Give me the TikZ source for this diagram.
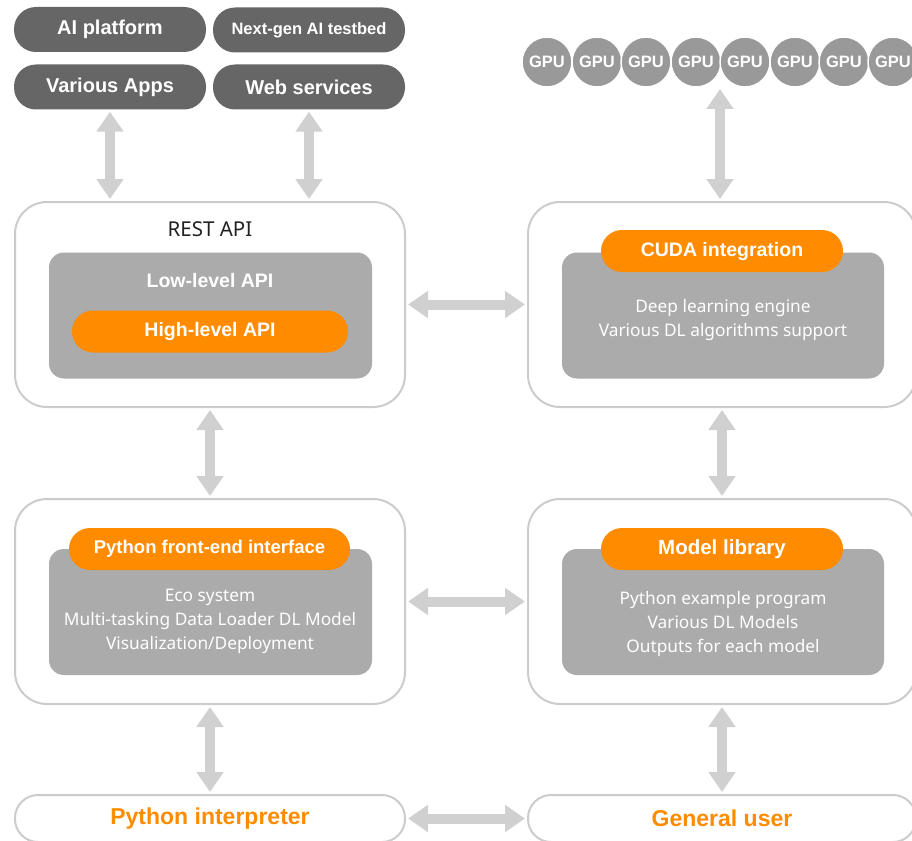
\documentclass[tikz,border=0pt]{standalone}
\usepackage{fontspec}
\setmainfont{Noto Sans}
\newfontfamily\hb{Liberation Sans}
\usetikzlibrary{arrows.meta}
\definecolor{pilldark}{HTML}{666666}
\definecolor{gpugray}{HTML}{999999}
\definecolor{innergray}{HTML}{ABABAB}
\definecolor{bordergray}{HTML}{CCCCCC}
\definecolor{arrowgray}{HTML}{D0D0D0}
\definecolor{accent}{HTML}{FF8C00}
\definecolor{textdark}{HTML}{222222}
\newcommand{\bsz}[1]{\hb\bfseries\fontsize{#1}{#1}\selectfont}
\begin{document}
\begin{tikzpicture}[x=1pt,y=-1pt,
  darkpill/.style={fill=pilldark, text=white, rounded corners=22pt, minimum width=192pt, minimum height=45pt, inner sep=0pt, font=\bsz{20}},
  outerbox/.style={draw=bordergray, line width=2pt, fill=white, rounded corners=32pt, minimum width=390pt, minimum height=205pt, inner sep=0pt},
  innerbox/.style={fill=innergray, rounded corners=15pt, minimum width=323pt, minimum height=126pt, inner sep=0pt},
  orangepill/.style={fill=accent, text=white, rounded corners=21pt, minimum height=42pt, inner sep=0pt, font=\bsz{19}},
  gpu/.style={circle, fill=gpugray, draw=white, line width=1.5pt, minimum size=50pt, inner sep=0pt, text=white, font=\bsz{16.5}},
  bodytext/.style={text=white, align=center, font=\fontsize{17.3}{24}\selectfont},
  bottombox/.style={draw=bordergray, line width=2pt, fill=white, rounded corners=23pt, minimum width=390pt, minimum height=47pt, inner sep=0pt, text=accent, font=\bsz{23}},
  bigarrow/.style={draw=arrowgray, line width=10pt, {Triangle[width=26pt,length=20pt]}-{Triangle[width=26pt,length=20pt]}, shorten >=2pt, shorten <=2pt}
]
\useasboundingbox (0,0) rectangle (912,840);
\clip (0,0) rectangle (912,840);
\fill[white] (0,0) rectangle (912,840);

% top pills
\node[darkpill] (aiplat) at (110,29.5) {AI platform};
\node[darkpill, font=\bsz{16.5}] (nextgen) at (309,30) {Next-gen AI testbed};
\node[darkpill] (apps) at (110,87) {Various Apps};
\node[darkpill] (web) at (309,87) {Web services};

% GPUs
\foreach \i/\x in {1/547,2/597,3/646,4/696,5/745,6/795,7/844,8/893}
  \node[gpu] (gpu\i) at (\x,62) {GPU};
\coordinate (gputop) at (720,87);

% REST API box
\node[outerbox] (rest) at (210,304.5) {};
\node[text=textdark, font=\fontsize{20.5}{22}\selectfont] (restlabel) at (210,229) {REST API};
\node[innerbox] (restin) at (210.5,315.5) {};
\node[text=white, font=\bsz{19.5}] (low) at (210,281) {Low-level API};
\node[orangepill, minimum width=276pt, font=\bsz{19.5}] (high) at (210,331.5) {High-level API};

% CUDA box
\node[outerbox, minimum width=388pt] (cudabox) at (722,304.5) {};
\node[innerbox, minimum width=322pt] (cudain) at (723,315.5) {};
\node[orangepill, minimum width=242pt, font=\bsz{19.5}] (cuda) at (722,251) {CUDA integration};
\node[bodytext] (cudatext) at (723,320) {Deep learning engine\\Various DL algorithms support};

% Python front-end box
\node[outerbox] (front) at (210,601.5) {};
\node[innerbox] (frontin) at (210.5,612) {};
\node[orangepill, minimum width=281pt, font=\bsz{18.5}] (frontpill) at (209.5,549) {Python front-end interface};
\node[bodytext] (fronttext) at (210,621) {Eco system\\Multi-tasking Data Loader DL Model\\Visualization/Deployment};

% Model library box
\node[outerbox, minimum width=388pt] (model) at (722,601.5) {};
\node[innerbox, minimum width=322pt] (modelin) at (723,612) {};
\node[orangepill, minimum width=242pt, font=\bsz{20.5}] (modelpill) at (722,549) {Model library};
\node[bodytext] (modeltext) at (723,624) {Python example program\\Various DL Models\\Outputs for each model};

% bottom boxes
\node[bottombox] (interp) at (210,818.5) {Python interpreter};
\node[bottombox, minimum width=388pt] (user) at (722,818.5) {General user};

% arrows
\draw[bigarrow] (apps.south) -- (apps.south |- rest.north);
\draw[bigarrow] (web.south) -- (web.south |- rest.north);
\draw[bigarrow] (gputop) -- (gputop |- cudabox.north);
\draw[bigarrow] (rest.east) -- (cudabox.west);
\draw[bigarrow] (rest.south) -- (front.north);
\draw[bigarrow] (cudabox.south) -- (model.north);
\draw[bigarrow] (front.east) -- (model.west);
\draw[bigarrow] (front.south) -- (interp.north);
\draw[bigarrow] (model.south) -- (user.north);
\draw[bigarrow] (interp.east) -- (user.west);
\end{tikzpicture}
\end{document}
